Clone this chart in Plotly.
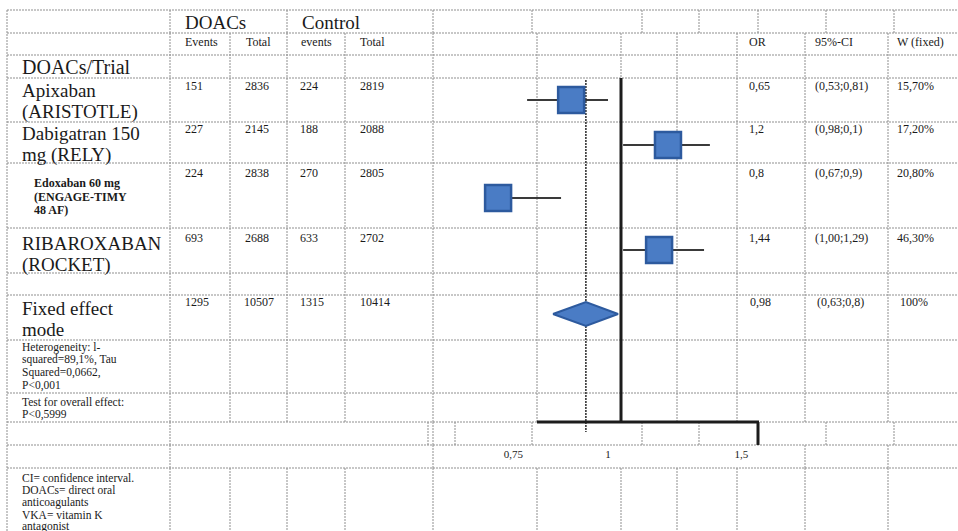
import math
import plotly.graph_objects as go

# ---- table content -------------------------------------------------------
trials = [
    "Apixaban\n(ARISTOTLE)",
    "Dabigatran 150\nmg (RELY)",
    "Edoxaban 60 mg\n(ENGAGE-TIMY\n48 AF)",
    "RIBAROXABAN\n(ROCKET)",
]
doac_events = [151, 227, 224, 693]
doac_total = [2836, 2145, 2838, 2688]
ctrl_events = [224, 188, 270, 633]
ctrl_total = [2819, 2088, 2805, 2702]
or_text = ["0,65", "1,2", "0,8", "1,44"]
ci_text = ["(0,53;0,81)", "(0,98;0,1)", "(0,67;0,9)", "(1,00;1,29)"]
weight_text = ["15,70%", "17,20%", "20,80%", "46,30%"]

# plotted point estimates and interval ends on the odds-ratio axis
est_plot = [0.894, 1.20, 0.716, 1.168]
lo_plot = [0.782, 1.047, 0.716, 1.047]
hi_plot = [1.0, 1.363, 0.867, 1.339]

pooled_label = "Fixed effect\nmode"
pooled_counts = [1295, 10507, 1315, 10414]
pooled_or_text = "0,98"
pooled_ci_text = "(0,63;0,8)"
pooled_weight_text = "100%"
pooled_lo, pooled_est, pooled_hi = 0.846, 0.935, 1.031

heterogeneity_note = "Heterogeneity: l-\nsquared=89,1%, Tau\nSquared=0,0662,\nP<0,001"
overall_note = "Test for overall effect:\nP<0,5999"
footnote = "CI= confidence interval.\nDOACs= direct oral\nanticoagulants\nVKA= vitamin K\nantagonist"

axis_ticks = [0.75, 1, 1.5]
axis_ticktext = ["0,75", "1", "1,5"]

# ---- page geometry (pixels) ----------------------------------------------
W, H = 958, 531
PX_ONE, PX_PER_LN = 608.0, 329.0          # odds ratio 1 position and log scale
log_lo = (0 - PX_ONE) / (PX_PER_LN * math.log(10))
log_hi = (W - PX_ONE) / (PX_PER_LN * math.log(10))

SERIF = "Liberation Serif"
INK = "#1a1a1a"
GRID = "#8f8f8f"
SMALL = 12

fig = go.Figure()
shapes = []


def hline(y, x0, x1, color=GRID, width=1, dash="2px,1px"):
    shapes.append(dict(type="line", xref="x", yref="y", x0=x0, x1=x1, y0=y, y1=y,
                       line=dict(color=color, width=width, dash=dash), layer="below"))


def vline(x, y0, y1, color=GRID, width=1, dash="2px,1px"):
    shapes.append(dict(type="line", xref="x", yref="y", x0=x, x1=x, y0=y0, y1=y1,
                       line=dict(color=color, width=width, dash=dash), layer="below"))


# table rules
for y in [10, 33, 55, 78, 122, 163, 228, 273, 295, 340, 393, 422, 445, 468]:
    hline(y, 7, W)
vline(7, 10, H)
for x in [170, 287, 433, 532, 642, 699, 758, 826, 894]:
    vline(x, 10, 33)
body_cols = [170, 230, 287, 345, 433, 537, 621, 677, 737, 805, 888]
for x in body_cols:
    vline(x, 33, 422)
    vline(x, 468, H)
for x in [170, 428, 433, 455, 532, 642, 699, 826, 894]:
    vline(x, 422, 445)
for x in [170, 433, 805, 888]:
    vline(x, 445, 468)

# heavy frame of the plot panel
heavy = dict(color="#1c1c1c", width=3, dash="solid")
shapes.append(dict(type="line", xref="x", yref="y", x0=621, x1=621, y0=78, y1=422, line=heavy))
shapes.append(dict(type="line", xref="x", yref="y", x0=537, x1=759, y0=422, y1=422, line=heavy))
shapes.append(dict(type="line", xref="x", yref="y", x0=758, x1=758, y0=422, y1=445, line=heavy))

annotations = []


def text_block(text, x, y0, dy, size, bold=False, anchor="left"):
    for i, line in enumerate(text.split("\n")):
        annotations.append(dict(
            x=x, y=y0 + i * dy, xref="x", yref="y", text=f"<b>{line}</b>" if bold else line,
            showarrow=False, xanchor=anchor, yanchor="middle",
            font=dict(family=SERIF, size=size, color=INK)))


# header
text_block("DOACs", 183, 22, 0, 19)
text_block("Control", 300, 22, 0, 19)
for lbl, x in zip(["Events", "Total", "events", "Total"], [183, 244, 299, 358]):
    text_block(lbl, x, 42, 0, SMALL)
for lbl, x in zip(["OR", "95%-CI", "W (fixed)"], [747, 813, 895]):
    text_block(lbl, x, 42, 0, SMALL)
text_block("DOACs/Trial", 20, 67, 0, 20)

# study rows
name_y = [90, 133, 183, 243]
num_y = [86, 129, 173, 238]
mark_y = [100, 145, 198, 250]
for i, name in enumerate(trials):
    if i == 2:
        text_block(name, 32, name_y[i], 13.5, 12, bold=True)
    else:
        text_block(name, 20, name_y[i], 22, 19)
    for val, x in zip([doac_events[i], doac_total[i], ctrl_events[i], ctrl_total[i]],
                      [183, 243, 298, 358]):
        text_block(str(val), x, num_y[i], 0, SMALL)
    text_block(or_text[i], 747, num_y[i], 0, SMALL)
    text_block(ci_text[i], 813, num_y[i], 0, SMALL)
    text_block(weight_text[i], 895, num_y[i], 0, SMALL)

# pooled row
text_block(pooled_label, 20, 308, 21, 19)
for val, x in zip(pooled_counts, [183, 242, 298, 358]):
    text_block(str(val), x, 302, 0, SMALL)
text_block(pooled_or_text, 748, 302, 0, SMALL)
text_block(pooled_ci_text, 815, 302, 0, SMALL)
text_block(pooled_weight_text, 898, 302, 0, SMALL)

# notes
text_block(heterogeneity_note, 20, 347, 12.7, 11.5)
text_block(overall_note, 20, 402, 12.7, 11.5)
text_block(footnote, 20, 478, 12.2, 11.5)

# ---- forest marks ----------------------------------------------------------
for i in range(len(trials)):
    fig.add_trace(go.Scatter(
        x=[lo_plot[i], hi_plot[i]], y=[mark_y[i], mark_y[i]], xaxis="x2", yaxis="y",
        mode="lines", line=dict(color="#3a3a3a", width=2), hoverinfo="skip", showlegend=False))

fig.add_trace(go.Scatter(
    x=[pooled_est, pooled_est], y=[80, 432], xaxis="x2", yaxis="y", mode="lines",
    line=dict(color="#2a2a2a", width=1.5, dash="2px,1px"), hoverinfo="skip", showlegend=False))

fig.add_trace(go.Scatter(
    x=est_plot, y=mark_y, xaxis="x2", yaxis="y", mode="markers",
    marker=dict(symbol="square", size=26, color="#4a7cc5",
                line=dict(color="#2d5a9e", width=2.5)),
    text=trials, hoverinfo="x", showlegend=False))

fig.add_trace(go.Scatter(
    x=[pooled_lo, pooled_est, pooled_hi, pooled_est, pooled_lo],
    y=[314, 302, 314, 326, 314], xaxis="x2", yaxis="y", mode="lines",
    fill="toself", fillcolor="#4a7cc5", line=dict(color="#2d5a9e", width=2),
    hoverinfo="skip", showlegend=False))

fig.update_layout(
    width=W, height=H, margin=dict(l=0, r=0, t=0, b=0),
    paper_bgcolor="white", plot_bgcolor="white",
    xaxis=dict(range=[0, W], visible=False, domain=[0, 1]),
    yaxis=dict(range=[H, 0], visible=False, domain=[0, 1]),
    xaxis2=dict(type="log", range=[log_lo, log_hi], overlaying="x", anchor="free",
                position=1 - 446 / H, showgrid=False, zeroline=False, showline=False,
                ticks="", tickvals=axis_ticks, ticktext=axis_ticktext,
                tickfont=dict(family=SERIF, size=11, color=INK)),
    shapes=shapes, annotations=annotations,
)

fig.write_html("out.html")
